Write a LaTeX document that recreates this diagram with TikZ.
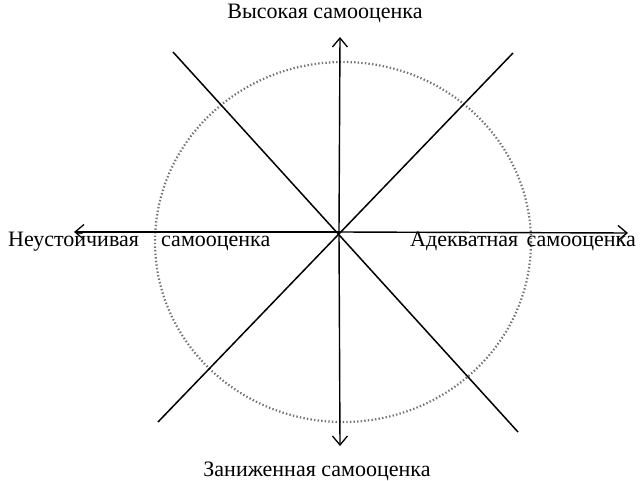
\documentclass[tikz,border=0pt]{standalone}
\usepackage{fontspec}
\setmainfont{Liberation Serif}
\usetikzlibrary{arrows.meta}
\begin{document}
\begin{tikzpicture}[x=1pt,y=-1pt,
  axis/.style={line width=1.4pt,-{Straight Barb[length=9pt,width=15pt,line width=1.3pt]}},
  diag/.style={line width=1.5pt},
  lbl/.style={font=\fontsize{22}{24}\selectfont, inner sep=0pt, anchor=base},
  ring/.style={draw=black!55, line width=2.2pt, dash pattern=on 1.4pt off 2.2pt}]
\useasboundingbox (0,0) rectangle (640,481);
\coordinate (o) at (339,232);
\coordinate (top) at (340,37);
\coordinate (bot) at (340,446);
\coordinate (lft) at (74,232);
\coordinate (rgt) at (628,233);
\coordinate (tl) at (173,52);
\coordinate (br) at (518,432);
\coordinate (tr) at (513,53);
\coordinate (bl) at (158,422);
\draw[ring] (343,242) ellipse [x radius=188, y radius=180];
\draw[diag] (tl) -- (br);
\draw[diag] (tr) -- (bl);
\draw[axis] (o) -- (top);
\draw[axis] (o) -- (bot);
\draw[axis] (o) -- (lft);
\draw[axis] (o) -- (rgt);
\node[lbl] (hi) at (325,19) {Высокая самооценка};
\node[lbl] (lo) at (317,476) {Заниженная самооценка};
\node[lbl, anchor=base west] (un1) at (8,247) {Неустойчивая};
\node[lbl, anchor=base west] (un2) at (161,247) {самооценка};
\node[lbl, anchor=base west] (ad1) at (410,247) {Адекватная};
\node[lbl, anchor=base east] (ad2) at (636,247) {самооценка};
\end{tikzpicture}
\end{document}
